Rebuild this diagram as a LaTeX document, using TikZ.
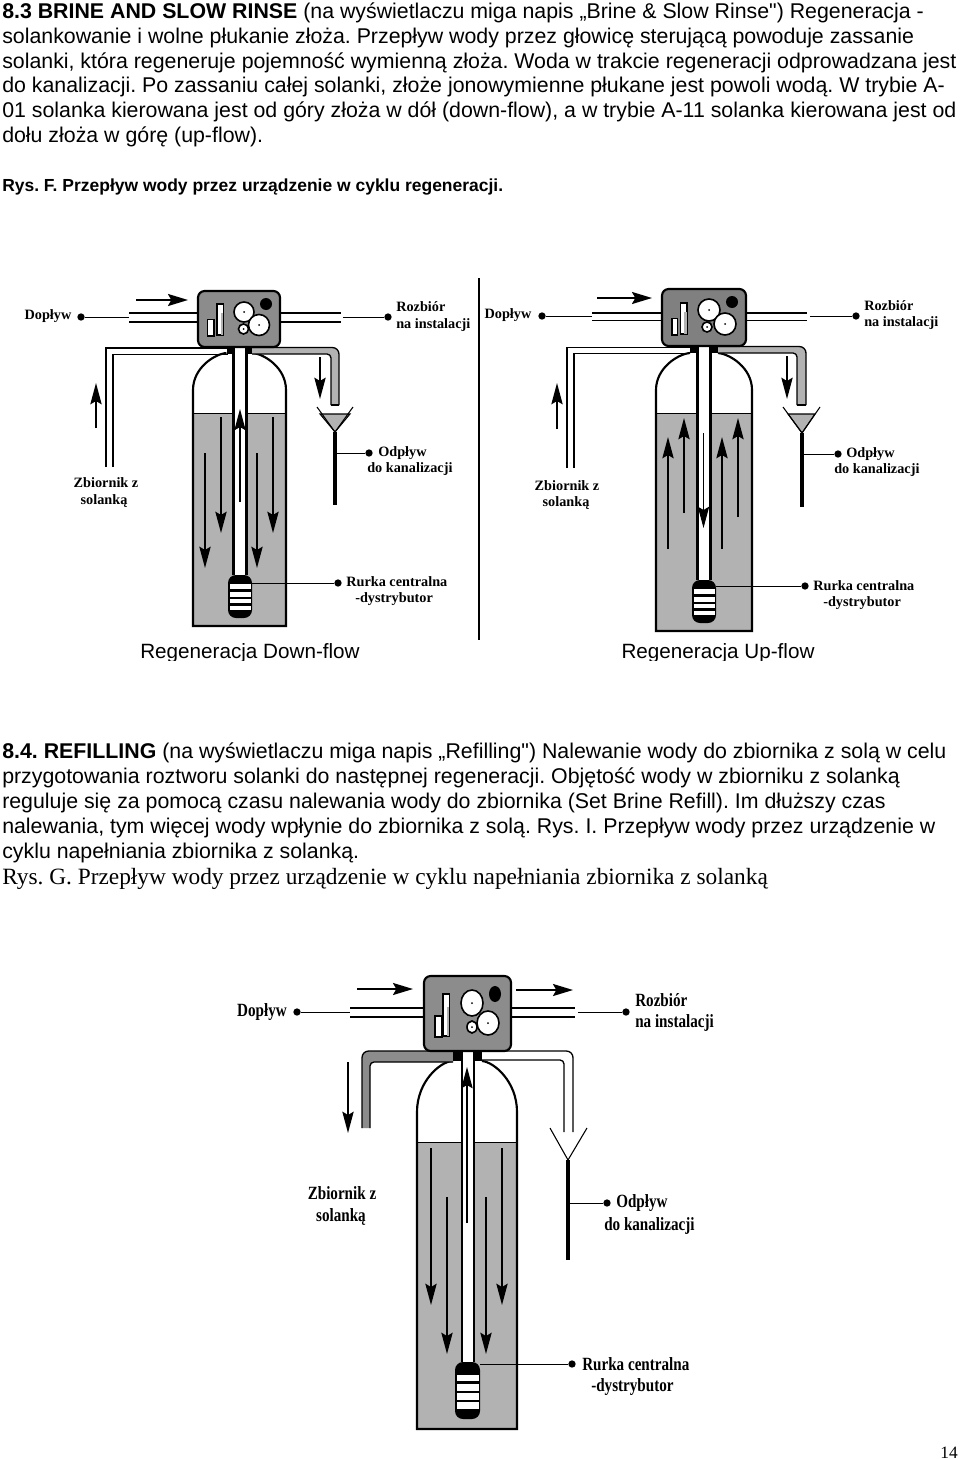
\documentclass[tikz,border=0pt]{standalone}
\usepackage{fontspec}
\usepackage{graphicx}
\setmainfont{Liberation Sans}[Ligatures=TeXOff]
\newfontfamily\labserif{Liberation Serif}
\usetikzlibrary{arrows.meta}
\frenchspacing
\definecolor{water}{gray}{0.70}
\definecolor{boxa}{gray}{0.55}
\definecolor{boxb}{gray}{0.50}
\tikzset{
 x=0.75pt,y=-0.75pt,
 bodyline/.style={anchor=base west,inner sep=0,font=\fontsize{16pt}{18pt}\selectfont\frenchspacing},
 captxt/.style={anchor=center,inner sep=0,font=\fontsize{15.5pt}{17pt}\selectfont},
 lab/.style={anchor=west,inner sep=0,font=\fontsize{10.7pt}{12pt}\labserif\bfseries},
 labc/.style={lab,anchor=center},
 dotn/.style={circle,fill=black,inner sep=0,minimum size=5.5pt},
 lead/.style={line width=0.75pt},
 pipe/.style={line width=1.3pt},
 wall/.style={line width=1.6pt},
 flow/.style={-{Stealth[length=16pt,width=8.5pt,inset=2.5pt]},line width=1.1pt},
 flowh/.style={-{Stealth[length=15pt,width=9pt,inset=2.5pt]},line width=1.5pt},
 stem/.style={line width=3pt},
 funnel/.style={line width=0.8pt},
}
% tank: #1 left, #2 right, #3 shoulder y, #4 top y, #5 water y, #6 bottom y, #7 tube half width, #8 collar half width
\newcommand\tankbody[8]{%
 \pgfmathsetmacro\cx{(#1+#2)/2}%
 \fill[white] (#1,#3) .. controls (#1,{#3-0.6*(#3-#4)}) and ({\cx-#8-12},#4+1) .. ({\cx-#8},#4) -- ({\cx+#8},#4) .. controls ({\cx+#8+12},#4+1) and (#2,{#3-0.6*(#3-#4)}) .. (#2,#3) -- (#2,#6) -- (#1,#6) -- cycle;
 \fill[water] (#1,#5) rectangle (#2,#6);
 \draw[wall] ({\cx-#8},#4) .. controls ({\cx-#8-12},#4+1) and (#1,{#3-0.6*(#3-#4)}) .. (#1,#3) -- (#1,#6) -- (#2,#6) -- (#2,#3) .. controls (#2,{#3-0.6*(#3-#4)}) and ({\cx+#8+12},#4+1) .. ({\cx+#8},#4);
 \draw[line width=0.6pt] (#1,#5) -- (#2,#5);
}
% elbow pipe open at its lower end: #1 colour, #2 start x, #3 outer y, #4 outer x, #5 inner x, #6 inner y, #7 end y
\newcommand\elbow[7]{%
 \fill[#1] (#2,#3) [rounded corners=5pt] -- (#4,#3) [sharp corners] -- (#4,#7) -- (#5,#7) [rounded corners=3pt] -- (#5,#6) [sharp corners] -- (#2,#6) -- cycle;
 \draw[line width=1pt] (#2,#3) [rounded corners=5pt] -- (#4,#3) [sharp corners] -- (#4,#7);
 \draw[line width=1pt] (#5,#7) [rounded corners=3pt] -- (#5,#6) [sharp corners] -- (#2,#6);
}
% head: #1 box colour; #2..#5 box l,t,r,b
\newcommand\headbox[5]{%
 \filldraw[fill=#1,draw=black,line width=1.6pt,rounded corners=5pt] (#2,#3) rectangle (#4,#5);
}
\newcommand\bars[8]{%
 \filldraw[fill=white,line width=0.9pt] (#1,#2) rectangle (#3,#4);
 \filldraw[fill=white,line width=0.9pt] (#5,#6) rectangle (#7,#8);
 \fill[water] ({#5+(#7-#5)*0.55},{#6+(#8-#6)*0.3}) rectangle ({#7-0.5},{#8-0.5});
}
\newcommand\gear[4]{\filldraw[fill=white,line width=1.2pt] (#1,#2) ellipse [x radius=#3,y radius=#4]; \fill (#1,#2) circle [radius=1];}
% distributor: #1 cx #2 top #3 half width #4 bottom
\newcommand\distrib[4]{%
 \fill[rounded corners=6pt] ({#1-#3},#2) rectangle ({#1+#3},#4);
 \pgfmathsetmacro\st{(#4-#2)/10}%
 \foreach \k in {2.2,3.9,5.5,7.1} {\fill[white] ({#1-#3+1.5},{#2+\k*\st}) rectangle ({#1+#3-1.5},{#2+(\k+1.1)*\st});}
}
\begin{document}
\begin{tikzpicture}
\useasboundingbox (0,0) rectangle (960,1459);
\fill[white] (0,0) rectangle (960,1459);
%----- top text
\node[bodyline] (t1) at (2,19) {\textbf{8.3 BRINE AND SLOW RINSE} (na wyświetlaczu miga napis „Brine \& Slow Rinse") Regeneracja -};
\node[bodyline] (t2) at (2,44) {solankowanie i wolne płukanie złoża. Przepływ wody przez głowicę sterującą powoduje zassanie};
\node[bodyline] (t3) at (2,69) {solanki, która regeneruje pojemność wymienną złoża. Woda w trakcie regeneracji odprowadzana jest};
\node[bodyline] (t4) at (2,93) {do kanalizacji. Po zassaniu całej solanki, złoże jonowymienne płukane jest powoli wodą. W trybie A-};
\node[bodyline] (t5) at (2,118) {01 solanka kierowana jest od góry złoża w dół (down-flow), a w trybie A-11 solanka kierowana jest od};
\node[bodyline] (t6) at (2,143) {dołu złoża w górę (up-flow).};
\node[bodyline,font=\fontsize{13.1pt}{15pt}\selectfont\bfseries\frenchspacing] (t7) at (2,191) {Rys. F. Przepływ wody przez urządzenie w cyklu regeneracji.};
%----- Diagram 1
\draw[pipe] (129,313)--(198,313) (129,322)--(198,322) (280,313)--(341,313) (280,322)--(341,322);
\tankbody{193}{286}{390}{353}{413}{626}{6.5}{13}
% brine
\draw[pipe,line width=1pt] (106,467)--(106,348)--(228,348) (113,467)--(113,354.5)--(228,354.5);
% drain
\elbow{water}{252}{347.5}{339}{331}{354}{405}
\draw[line width=1pt] (331,405)--(339,405);
\fill (227,347) rectangle (252,354);
\filldraw[fill=white,draw=none] (233.5,347) rectangle (246.5,575);
\draw[wall] (233.5,347)--(233.5,575) (246.5,347)--(246.5,575);
\headbox{boxa}{198}{291}{280}{347}
\bars{207.5}{319.5}{214}{336}{217}{304}{223.5}{335}
\gear{244}{312}{10}{10}\gear{259}{325}{10.5}{10.5}\gear{243.5}{329}{5}{5}
\fill (266,304) circle [radius=6];
\distrib{240}{575}{12}{618}
\filldraw[fill=water,funnel] (320,414)--(335,432)--(350,414)--cycle;
\draw[funnel] (317,407)--(335,432)--(353,407);
\draw[stem] (335,432)--(335,505);
\draw[flowh] (136,300)--(188,300);
\draw[flow] (96,428)--(96,383);
\draw[flow] (320,357)--(320,399);
\draw[flow] (205,453)--(205,568);
\draw[flow] (221,417)--(221,533);
\draw[flow] (257,453)--(257,568);
\draw[flow] (273,417)--(273,533);
\draw[flow,line width=0.8pt] (240,502)--(240,409);
\node[dotn] (d1a) at (81,317) {}; \coordinate (d1ae) at (129,317); \draw[lead] (d1a)--(d1ae);
\node[dotn] (d1b) at (388,317) {}; \coordinate (d1be) at (343,317); \draw[lead] (d1b)--(d1be);
\node[dotn] (d1c) at (369,453) {}; \coordinate (d1ce) at (337,453); \draw[lead] (d1c)--(d1ce);
\node[dotn] (d1d) at (338,583) {}; \coordinate (d1de) at (252,583); \draw[lead] (d1d)--(d1de);
\node[labc] (l1a) at (48,316) {Dopływ};
\node[lab] (l1b) at (396,307) {Rozbiór};
\node[lab] (l1c) at (396,325) {na instalacji};
\node[lab] (l1d) at (378,453) {Odpływ};
\node[lab] (l1e) at (367,469) {do kanalizacji};
\node[lab] (l1f) at (346,582) {Rurka centralna};
\node[lab] (l1g) at (355,599) {-dystrybutor};
\node[labc] (l1h) at (106,483) {Zbiornik z};
\node[labc] (l1i) at (104,501) {solanką};
\node[captxt] (c1) at (250,653) {Regeneracja Down-flow};
\draw[line width=1pt] (479,278)--(479,640);
%----- Diagram 2
\draw[pipe] (592,313)--(662,313) (592,320.5)--(662,320.5) (746,313)--(807,313) (746,320.5)--(807,320.5);
\tankbody{656}{752}{390}{353}{413}{631}{7}{14}
\draw[pipe,line width=1pt] (567,468)--(567,347.5)--(690,347.5) (574,468)--(574,353.5)--(690,353.5);
\elbow{water}{718}{346.5}{806}{797}{353}{405}
\draw[line width=1pt] (797,405)--(806,405);
\fill (690,346) rectangle (718,353);
\filldraw[fill=white,draw=none] (697.5,346) rectangle (710.5,580);
\draw[wall] (697.5,346)--(697.5,580) (710.5,346)--(710.5,580);
\headbox{boxb}{662}{289}{746}{346}
\bars{672}{318.5}{677.5}{335}{680.5}{303}{687}{334}
\gear{709}{310}{11}{11}\gear{725}{324}{11}{11}\gear{707}{327}{5}{5}
\fill (732,302) circle [radius=6];
\distrib{704}{580}{12}{623}
\filldraw[fill=water,funnel] (788,414)--(802,433)--(815,414)--cycle;
\draw[funnel] (783,407)--(802,433)--(820,407);
\draw[stem] (802,433)--(802,507);
\draw[flowh] (597,298)--(652,298);
\draw[flow] (557,429)--(557,383);
\draw[flow] (787,356)--(787,399);
\draw[flow] (668,549)--(668,437);
\draw[flow] (684,513)--(684,418);
\draw[flow] (722,549)--(722,437);
\draw[flow] (738,517)--(738,418);
\draw[flow,line width=0.8pt] (703.5,433)--(703.5,528);
\node[dotn] (d2a) at (542,316) {}; \coordinate (d2ae) at (592,316); \draw[lead] (d2a)--(d2ae);
\node[dotn] (d2b) at (856,316) {}; \coordinate (d2be) at (810,316); \draw[lead] (d2b)--(d2be);
\node[dotn] (d2c) at (838,454) {}; \coordinate (d2ce) at (804,454); \draw[lead] (d2c)--(d2ce);
\node[dotn] (d2d) at (805,586) {}; \coordinate (d2de) at (716,586); \draw[lead] (d2d)--(d2de);
\node[labc] (l2a) at (508,315) {Dopływ};
\node[lab] (l2b) at (864,306) {Rozbiór};
\node[lab] (l2c) at (864,323) {na instalacji};
\node[lab] (l2d) at (846,454) {Odpływ};
\node[lab] (l2e) at (834,470) {do kanalizacji};
\node[lab] (l2f) at (813,586) {Rurka centralna};
\node[lab] (l2g) at (823,603) {-dystrybutor};
\node[labc] (l2h) at (567,486) {Zbiornik z};
\node[labc] (l2i) at (566,503) {solanką};
\node[captxt] (c2) at (718,653) {Regeneracja Up-flow};
\fill[white] (130,661) rectangle (830,668);
%----- middle text
\node[bodyline] (m1) at (2,758) {\textbf{8.4. REFILLING} (na wyświetlaczu miga napis „Refilling") Nalewanie wody do zbiornika z solą w celu};
\node[bodyline] (m2) at (2,783) {przygotowania roztworu solanki do następnej regeneracji. Objętość wody w zbiorniku z solanką};
\node[bodyline] (m3) at (2,808) {reguluje się za pomocą czasu nalewania wody do zbiornika (Set Brine Refill). Im dłuższy czas};
\node[bodyline] (m4) at (2,833) {nalewania, tym więcej wody wpłynie do zbiornika z solą. Rys. I. Przepływ wody przez urządzenie w};
\node[bodyline] (m5) at (2,858) {cyklu napełniania zbiornika z solanką.};
\node[bodyline,font=\fontsize{17.5pt}{19pt}\labserif\frenchspacing] (m6) at (2,884) {Rys. G. Przepływ wody przez urządzenie w cyklu napełniania zbiornika z solanką};
%----- Diagram 3
\draw[pipe] (350,1008)--(424,1008) (350,1017)--(424,1017) (511,1008)--(575,1008) (511,1017)--(575,1017);
\tankbody{417}{517}{1112}{1061}{1142}{1429}{6}{15}
\fill[boxa] (453,1051) [rounded corners=5pt] -- (362,1051) [sharp corners] -- (362,1128) -- (370,1128) [rounded corners=3pt] -- (370,1062) [sharp corners] -- (453,1062) -- cycle;
\draw[line width=1pt] (453,1051) [rounded corners=5pt] -- (362,1051) [sharp corners] -- (362,1128);
\draw[line width=1pt] (370,1128) [rounded corners=3pt] -- (370,1062) [sharp corners] -- (453,1062);
\elbow{white}{482}{1051}{573}{564}{1060}{1132}
\fill (453,1051) rectangle (482,1061);
\filldraw[fill=white,draw=none] (462,1051) rectangle (474,1362);
\draw[wall] (462,1051)--(462,1362) (474,1051)--(474,1362);
\headbox{boxa}{424}{976}{511}{1051}
\bars{435}{1016}{442}{1037}{443}{994}{449.5}{1036}
\gear{472}{1003}{11}{13}\gear{488}{1023}{11}{12}\gear{472}{1027}{5}{6}
\fill (495,994) ellipse [x radius=6,y radius=8];
\distrib{467.5}{1362}{12.5}{1419}
\draw[funnel] (550,1128)--(568,1160)--(587,1128);
\draw[stem] (568,1160)--(568,1260);
\draw[flowh] (357,989)--(413,989);
\draw[flowh] (516,990)--(573,990);
\draw[flow] (348,1062)--(348,1133);
\draw[flow] (431,1148)--(431,1305);
\draw[flow] (447,1197)--(447,1354);
\draw[flow] (486,1197)--(486,1354);
\draw[flow] (502,1148)--(502,1305);
\draw[flow,line width=0.8pt] (467,1223)--(467,1067);
\node[dotn] (d3a) at (297,1012) {}; \coordinate (d3ae) at (350,1012); \draw[lead] (d3a)--(d3ae);
\node[dotn] (d3b) at (626,1012) {}; \coordinate (d3be) at (578,1012); \draw[lead] (d3b)--(d3be);
\node[dotn] (d3c) at (607,1203) {}; \coordinate (d3ce) at (570,1203); \draw[lead] (d3c)--(d3ce);
\node[dotn] (d3d) at (572,1364) {}; \coordinate (d3de) at (480,1364); \draw[lead] (d3d)--(d3de);
\newcommand\tall[1]{\scalebox{0.81}[1]{#1}}
\tikzset{lab3/.style={lab,font=\fontsize{14pt}{16pt}\labserif\bfseries},lab3c/.style={lab3,anchor=center}}
\node[lab3c] (l3a) at (262,1012) {\tall{Dopływ}};
\node[lab3] (l3b) at (635,1000) {\tall{Rozbiór}};
\node[lab3] (l3c) at (635,1023) {\tall{na instalacji}};
\node[lab3] (l3d) at (616,1203) {\tall{Odpływ}};
\node[lab3] (l3e) at (604,1226) {\tall{do kanalizacji}};
\node[lab3] (l3f) at (582,1364) {\tall{Rurka centralna}};
\node[lab3] (l3g) at (591,1387) {\tall{-dystrybutor}};
\node[lab3c] (l3h) at (342,1193) {\tall{Zbiornik z}};
\node[lab3c] (l3i) at (341,1217) {\tall{solanką}};
\node[anchor=base east,inner sep=0,font=\fontsize{13pt}{15pt}\labserif] (pg) at (958,1458) {14};
\end{tikzpicture}
\end{document}
